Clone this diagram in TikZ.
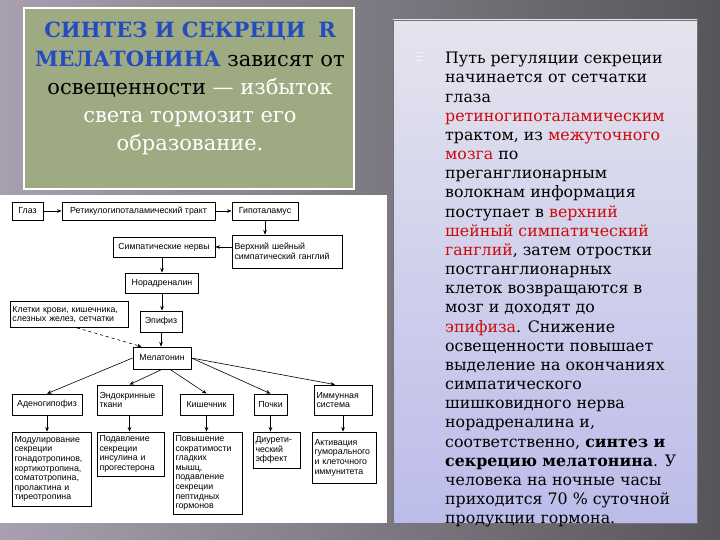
\documentclass[tikz,border=0pt]{standalone}
\usepackage{fontspec}
\setmainfont{DejaVu Serif}
\newfontfamily\diagfont{Liberation Sans}
\usetikzlibrary{arrows.meta,calc}
\tikzset {>={Stealth[length=4.5pt,width=3.6pt]}}
\definecolor{slideL}{RGB}{168,160,175}
\definecolor{slideR}{RGB}{86,86,90}
\definecolor{sage}{RGB}{157,170,130}
\definecolor{headblue}{RGB}{36,76,190}
\definecolor{hl}{RGB}{205,10,10}
\definecolor{lavtop}{RGB}{228,228,238}
\definecolor{lavbot}{RGB}{188,188,234}
\tikzset{
  blk/.style={draw,thick,fill=white,inner sep=2.5pt,font=\diagfont\fontsize{8.8}{9.6}\selectfont},
  blkl/.style={blk,align=left},
  link/.style={semithick,->}
}

\begin{document}
\begin{tikzpicture}[x=1pt,y=-1pt]
\useasboundingbox (0,0) rectangle (720,540);
\shade[left color=slideL,right color=slideR] (0,0) rectangle (720,540);

% green title box
\fill[white] (23,7) rectangle (355,190);
\fill[sage] (25,9) rectangle (353,188);
\node[font=\fontsize{21}{28.3}\selectfont,align=center,anchor=north,inner sep=0pt] (title) at (190,22)
  {{\bfseries\color{headblue}СИНТЕЗ И СЕКРЕЦИ\hspace{0.6em}R}\\
   {\bfseries\color{headblue}МЕЛАТОНИНА} зависят от\\
   освещенности {\color{white}— избыток}\\
   {\color{white}света тормозит его}\\
   {\color{white}образование.}};

% right text panel
\shade[top color=lavtop,bottom color=lavbot,draw=black!55,line width=0.4pt] (393,20) rectangle (697,523);
\foreach \yy in {53,57,61}
  \draw[white,opacity=.6,line width=1pt] (416,\yy) -- (423,\yy);
\node[font=\fontsize{15.8}{19.17}\selectfont,align=left,anchor=north west,inner sep=0pt] (body) at (445,52)
  {Путь регуляции секреции\\
   начинается от сетчатки\\
   глаза\\
   \textcolor{hl}{ретиногипоталамическим}\\
   трактом, из \textcolor{hl}{межуточного}\\
   \textcolor{hl}{мозга} по\\
   преганглионарным\\
   волокнам информация\\
   поступает в \textcolor{hl}{верхний}\\
   \textcolor{hl}{шейный симпатический}\\
   \textcolor{hl}{ганглий}, затем отростки\\
   постганглионарных\\
   клеток возвращаются в\\
   мозг и доходят до\\
   \textcolor{hl}{эпифиза}. Снижение\\
   освещенности повышает\\
   выделение на окончаниях\\
   симпатического\\
   шишковидного нерва\\
   норадреналина и,\\
   соответственно, \textbf{синтез и}\\
   \textbf{секрецию мелатонина}. У\\
   человека на ночные часы\\
   приходится 70 \% суточной\\
   продукции гормона.};

% scheme
\fill[white] (0,195) rectangle (387,523);
\node[blk,minimum width=31,minimum height=18] (glaz) at (27.5,211) {Глаз};
\node[blk,minimum width=153,minimum height=18] (retik) at (138.5,211) {Ретикулогипоталамический тракт};
\node[blk,minimum width=66,minimum height=18] (gipo) at (265,211) {Гипоталамус};
\node[blkl,text width=105,minimum height=33] (verkh) at (287,251.5) {Верхний шейный\\симпатический ганглий};
\node[blk,minimum width=102,minimum height=20] (simp) at (164,247) {Симпатические нервы};
\node[blk,minimum width=73,minimum height=20] (norad) at (162,283) {Норадреналин};
\node[blkl,text width=113,minimum height=26] (kletki) at (69,314.5) {Клетки крови, кишечника,\\слезных желез, сетчатки};
\node[blk,minimum width=42,minimum height=21] (epif) at (161,321.5) {Эпифиз};
\node[blk,minimum width=58,minimum height=22] (melat) at (162,358) {Мелатонин};

\node[blk,minimum width=70,minimum height=21] (adeno) at (47,404.5) {Аденогипофиз};
\node[blkl,text width=60,minimum height=30] (endo) at (129.5,400) {Эндокринные\\ткани};
\node[blk,minimum width=53,minimum height=21] (kish) at (206.5,404.5) {Кишечник};
\node[blk,minimum width=33,minimum height=21] (pochki) at (270.5,404.5) {Почки};
\node[blkl,text width=53,minimum height=30] (immun) at (343,400) {Иммунная\\система};

\node[blkl,text width=74,minimum height=74] (modul) at (51.5,469) {Модулирование\\секреции\\гонадотропинов,\\кортикотропина,\\соматотропина,\\пролактина и\\тиреотропина};
\node[blkl,text width=62,minimum height=44] (podav) at (130.5,454) {Подавление\\секреции\\инсулина и\\прогестерона};
\node[blkl,text width=64,minimum height=82] (povysh) at (207.5,473) {Повышение\\сократимости\\гладких\\мышц,\\подавление\\секреции\\пептидных\\гормонов};
\node[blkl,text width=42,minimum height=36] (diur) at (276.5,450) {Диурети-\\ческий\\эффект};
\node[blkl,text width=59,minimum height=51] (aktiv) at (344,457.5) {Активация\\гуморального\\и клеточного\\иммунитета};

\draw[link] (glaz) -- (retik);
\draw[link] (retik) -- (gipo);
\draw[link] (gipo.south) -- (gipo.south |- verkh.north);
\draw[link] (simp.east -| verkh.west) -- (simp.east);
\draw[link] (simp.south -| norad.north) -- (norad.north);
\draw[link] (norad.south) -- (norad.south |- epif.north);
\draw[link] (epif.south) -- (epif.south |- melat.north);
\draw[link,dashed] ([xshift=8pt]kletki.south) -- ([xshift=9pt]melat.north west);
\draw[link] (melat.west) -- (adeno.north);
\draw[link] (melat.south) -- (endo.north);
\draw[link] ([xshift=8pt]melat.south) -- (kish.north);
\draw[link] (melat.east) -- (pochki.north);
\draw[link] (melat.east) -- ([xshift=-8pt]immun.north);
\draw[link] (adeno.south) -- (adeno.south |- modul.north);
\draw[link] (endo.south) -- (endo.south |- podav.north);
\draw[link] (kish.south) -- (kish.south |- povysh.north);
\draw[link] (pochki.south) -- (pochki.south |- diur.north);
\draw[link] (immun.south) -- (immun.south |- aktiv.north);
\end{tikzpicture}
\end{document}
